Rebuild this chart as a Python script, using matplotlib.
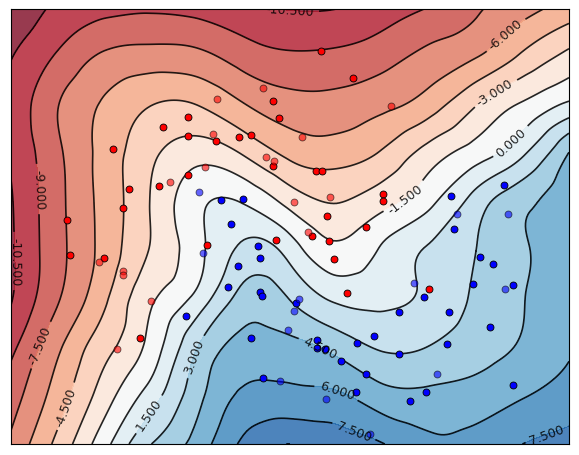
import numpy as np
import matplotlib
matplotlib.use('Agg')
import matplotlib.pyplot as plt
import matplotlib.tri as mtri

plt.rcParams['contour.negative_linestyle'] = 'solid'

# decision values on a coarse grid
# (image units: x from the left edge, rows counted from the top)
grid_x = [11, 57.5, 104, 150.5, 197, 243.5, 290, 336.5, 383, 429.5, 476, 522.5, 569]
grid_row = [10, 58, 107, 155, 203, 252, 300, 348, 397, 445]
decision = [
    [-11.9, -10.15, -9.5, -9.2, -9.5, -10.2, -10.55, -10.5, -9.7, -8.9, -7.7, -6.55, -5.35],
    [-10.55, -8.8, -7.25, -6.85, -7.05, -8.15, -8.75, -8.65, -8.05, -7.05, -6.05, -4.2, -2.55],
    [-10.3, -7.55, -5.8, -4.5, -4.45, -5.85, -6.85, -6.9, -6.3, -5.15, -3.0, -1.25, 0.4],
    [-10.35, -7.8, -5.45, -3.35, -2.1, -3.1, -4.85, -5.2, -4.25, -2.3, -0.7, 1.3, 4.6],
    [-10.62, -7.95, -5.5, -2.95, -0.4, -0.1, -2.0, -3.05, -2.0, -0.35, 2.2, 4.1, 5.3],
    [-10.72, -8.0, -5.5, -2.9, -0.5, 1.9, 0.9, -1.1, 0.27, 1.7, 3.0, 4.3, 5.35],
    [-10.6, -7.65, -4.8, -1.75, 0.5, 3.6, 2.95, 1.25, 1.2, 1.8, 3.3, 4.45, 5.4],
    [-9.4, -6.3, -3.55, -0.97, 2.95, 5.0, 4.95, 4.0, 2.8, 3.05, 3.9, 4.65, 5.8],
    [-8.2, -5.3, -2.25, 0.75, 4.0, 6.3, 6.45, 6.25, 5.1, 4.85, 5.15, 5.9, 6.7],
    [-7.2, -4.1, -0.55, 2.95, 5.1, 7.8, 9.0, 8.2, 7.55, 6.3, 6.6, 7.5, 8.0],
]
levels = np.arange(-12, 10.6, 1.5)

# where the contour labels sit
label_x = [290, 505, 495, 505, 402, 38, 16, 43, 65, 147, 196, 318, 337, 354, 547]
label_row = [10, 35, 93, 137, 195, 190, 262, 347, 407, 414, 358, 352, 391, 432, 435]

# training points
red_train_x = [188, 163, 188, 113, 321, 353, 273, 279, 216, 239, 251, 129, 123, 159, 188, 67, 70,
               104, 273, 316, 322, 327, 383, 383, 312, 329, 276, 366, 334, 207, 347, 429, 140]
red_train_row = [118, 128, 137, 150, 52, 79, 102, 119, 142, 138, 136, 190, 209, 187, 176, 221, 256,
                 259, 167, 172, 172, 217, 195, 202, 237, 242, 241, 228, 260, 246, 294, 290, 339]
blue_train_x = [221, 243, 231, 258, 260, 238, 228, 260, 262, 186, 296, 251, 317, 317, 325, 357, 374,
                341, 366, 399, 399, 263, 356, 449, 490, 447, 426, 410, 513, 451, 504, 454, 480,
                493, 424, 473, 513]
blue_train_row = [201, 200, 225, 247, 259, 267, 288, 293, 297, 317, 304, 339, 341, 349, 350, 344, 337,
                  362, 375, 355, 313, 379, 393, 313, 328, 345, 393, 402, 386, 197, 186, 230, 258,
                  265, 298, 285, 286]

# test points (drawn lighter)
red_test_x = [263, 217, 391, 213, 302, 266, 274, 170, 205, 99, 123, 123, 294, 330, 308, 151, 117]
red_test_row = [89, 100, 107, 135, 138, 158, 162, 183, 168, 263, 272, 276, 203, 198, 233, 302, 350]
blue_test_x = [199, 203, 299, 294, 288, 280, 326, 370, 437, 414, 457, 508, 505]
blue_test_row = [193, 254, 300, 312, 331, 382, 400, 435, 375, 284, 215, 215, 290]


def up(rows):
    # rows were counted from the top of the plot, the axis counts from the bottom
    return 445 - np.asarray(rows, dtype=float)


fig = plt.figure(figsize=(5.79, 4.56), dpi=100)
ax = fig.add_axes([11 / 579, 11 / 456, 558 / 579, 435 / 456])

gx, gy = np.meshgrid(grid_x, up(grid_row))
tri = mtri.Triangulation(gx.ravel(), gy.ravel())
refiner = mtri.UniformTriRefiner(tri)
tri_fine, z_fine = refiner.refine_field(np.array(decision).ravel(), subdiv=4)

ax.tricontourf(tri_fine, z_fine, levels=levels, cmap=plt.cm.RdBu, alpha=0.8)
cs = ax.tricontour(tri_fine, z_fine, levels=levels, colors='k', linewidths=1.2, alpha=0.85)
ax.clabel(cs, fmt='%2.3f', fontsize=9, manual=list(zip(label_x, up(label_row))))

ax.scatter(red_train_x, up(red_train_row), c='#FF0000', s=25, edgecolors='k', linewidths=0.6, zorder=3)
ax.scatter(blue_train_x, up(blue_train_row), c='#0000FF', s=25, edgecolors='k', linewidths=0.6, zorder=3)
ax.scatter(red_test_x, up(red_test_row), c='#FF0000', s=25, edgecolors='k', linewidths=0.6,
           alpha=0.6, zorder=3)
ax.scatter(blue_test_x, up(blue_test_row), c='#0000FF', s=25, edgecolors='k', linewidths=0.6,
           alpha=0.6, zorder=3)

ax.set_xlim(11, 569)
ax.set_ylim(0, 435)
ax.set_xticks(())
ax.set_yticks(())

fig.savefig('out.png', dpi=100)
